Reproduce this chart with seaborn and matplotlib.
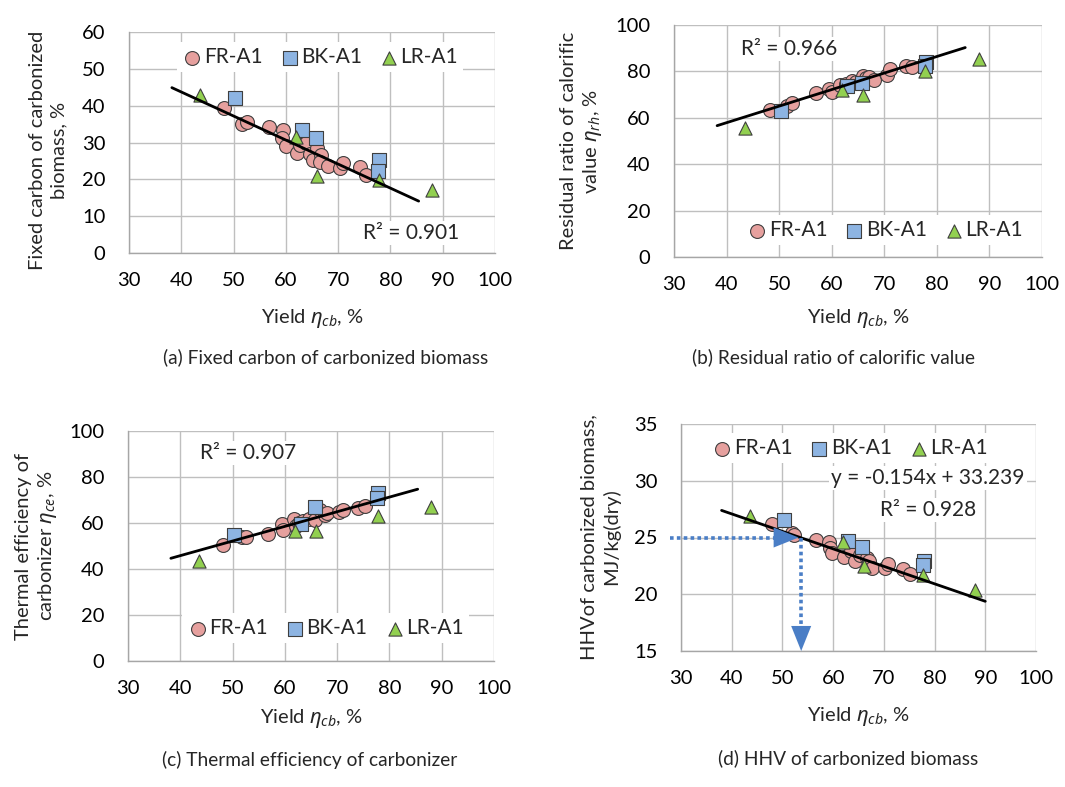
import numpy as np
import pandas as pd
import matplotlib
matplotlib.use("Agg")
import matplotlib.pyplot as plt
import seaborn as sns

# ---------------- data ----------------
# shared yields of BK-A1 and LR-A1 samples
BK_X = [50.3, 63.0, 65.7, 77.9, 77.7]
LR_X = [43.6, 62.0, 66.0, 77.8, 88.0]

# (a) fixed carbon of carbonized biomass, %
FR_A_X = [48.2, 51.6, 52.5, 56.8, 59.4, 59.2, 60.1, 62.1, 62.7, 63.8,
          64.6, 65.2, 65.9, 66.8, 66.5, 68.1, 70.3, 71.0, 74.1, 75.4]
FR_A_Y = [39.5, 35.0, 35.6, 34.1, 33.3, 31.1, 29.0, 27.2, 29.3, 29.9,
          27.0, 25.2, 28.4, 26.6, 24.7, 23.6, 23.0, 24.3, 23.4, 21.1]
BK_A_Y = [42.0, 33.3, 31.3, 25.3, 22.3]
LR_A_Y = [42.8, 31.5, 21.0, 19.8, 17.0]

# (b) residual ratio of calorific value, %
FR_B_X = [48.3, 51.5, 52.4, 57.0, 59.4, 60.0, 61.6, 62.7, 63.8, 64.6,
          65.9, 66.5, 67.0, 68.1, 70.5, 71.1, 74.2, 75.3]
FR_B_Y = [63.4, 65.1, 66.2, 70.8, 72.3, 71.3, 74.1, 74.5, 76.0, 75.5,
          78.0, 77.0, 77.7, 76.3, 78.4, 80.9, 82.3, 81.8]
BK_B_Y = [63.0, 73.5, 75.0, 84.2, 82.5]
LR_B_Y = [55.5, 72.0, 70.0, 80.0, 85.5]

# (c) thermal efficiency of carbonizer, %
FR_C_X = [48.1, 51.8, 52.6, 56.8, 59.4, 59.7, 61.7, 62.2, 62.8, 63.5,
          64.7, 65.8, 66.7, 67.7, 68.0, 70.4, 71.2, 74.0, 75.3]
FR_C_Y = [50.3, 53.7, 53.7, 55.1, 59.7, 57.1, 61.9, 58.6, 60.0, 61.0,
          61.9, 61.2, 65.5, 63.3, 64.3, 64.8, 65.8, 66.7, 67.2]
BK_C_Y = [55.0, 59.5, 67.0, 73.2, 71.0]
LR_C_Y = [43.5, 56.5, 56.5, 63.0, 67.0]

# (d) HHV of carbonized biomass, MJ/kg(dry)
FR_D_X = [48.0, 51.8, 52.3, 56.7, 59.2, 59.3, 59.8, 62.1, 63.5, 64.4,
          65.2, 66.7, 67.0, 67.7, 70.2, 70.9, 73.8, 75.1]
FR_D_Y = [26.2, 25.4, 25.2, 24.8, 24.6, 24.1, 23.6, 23.3, 23.8, 22.9,
          23.5, 23.2, 22.9, 22.3, 22.3, 22.7, 22.2, 21.8]
BK_D_Y = [26.5, 24.7, 24.2, 22.9, 22.6]
LR_D_Y = [26.9, 24.6, 22.5, 21.7, 20.4]
D_SLOPE, D_INTERCEPT = -0.154, 33.239
HHV_TARGET = 25.0

SERIES = ["FR-A1", "BK-A1", "LR-A1"]
R2_TEXT = ["R² = 0.901", "R² = 0.966", "R² = 0.907", "R² = 0.928"]
EQ_TEXT_D = "y = -0.154x + 33.239"
YLABELS = ["Fixed carbon of carbonized\nbiomass, %",
           "Residual ratio of calorific\nvalue $\\eta_{rh}$, %",
           "Thermal efficiency of\ncarbonizer $\\eta_{ce}$, %",
           "HHVof carbonized biomass,\nMJ/kg(dry)"]
XLABEL = "Yield $\\eta_{cb}$, %"
CAPTIONS = ["(a) Fixed carbon of carbonized biomass",
            "(b) Residual ratio of calorific value",
            "(c) Thermal efficiency of carbonizer",
            "(d) HHV of carbonized biomass"]
YLIMS = [(0, 60, 10), (0, 100, 20), (0, 100, 20), (15, 35, 5)]
TREND_X = [(38.2, 85.4), (38.2, 85.4), (38.2, 85.4), (38.0, 90.0)]

# ---------------- style ----------------
sns.set_theme(style="white")
plt.rcParams['font.family'] = ['Lato', 'DejaVu Sans']
plt.rcParams['mathtext.fontset'] = 'custom'
plt.rcParams['mathtext.rm'] = 'Lato'
plt.rcParams['mathtext.it'] = 'Noto Sans:italic'

FS_TICK = 14.5
FS_TXT = 15
FS_LAB = 14.5
FS_CAP = 13.8
GRID = '#BFBFBF'
COLORS = {"FR-A1": "#E6A09E", "BK-A1": "#8DB4E2", "LR-A1": "#92D050"}
MARKERS = {"FR-A1": "o", "BK-A1": "s", "LR-A1": "^"}
SIZES = {"FR-A1": 100, "BK-A1": 90, "LR-A1": 90}
ARROW_C = '#4A7EC6'

W, H = 1065, 787
fig = plt.figure(figsize=(W / 100, H / 100), dpi=100)


def px_axes(l, t, r, b):
    return fig.add_axes([l / W, 1 - b / H, (r - l) / W, (b - t) / H])


boxes = [(129, 32, 495, 253), (674, 25, 1042, 257),
         (128, 431, 494, 661), (681, 424, 1036, 651)]
leg_pos = [(0.522, 0.887), (0.573, 0.116), (0.54, 0.143), (0.476, 0.894)]
r2_pos = [(0.770, 0.090), (0.3125, 0.897), (0.328, 0.904), (0.696, 0.621)]
ylab_px = [(48, 150), (582, 141), (37, 546), (600, 537)]
xlab_y = [318, 318, 718, 716]
cap_px = [(326, 357), (833, 357), (310, 760), (848, 758)]

panel_data = [
    (FR_A_X, FR_A_Y, BK_A_Y, LR_A_Y),
    (FR_B_X, FR_B_Y, BK_B_Y, LR_B_Y),
    (FR_C_X, FR_C_Y, BK_C_Y, LR_C_Y),
    (FR_D_X, FR_D_Y, BK_D_Y, LR_D_Y),
]

for i, (box, (frx, fry, bky, lry)) in enumerate(zip(boxes, panel_data)):
    ax = px_axes(*box)
    df = pd.concat([
        pd.DataFrame({"x": frx, "y": fry, "s": "FR-A1"}),
        pd.DataFrame({"x": BK_X, "y": bky, "s": "BK-A1"}),
        pd.DataFrame({"x": LR_X, "y": lry, "s": "LR-A1"}),
    ], ignore_index=True)
    for name in SERIES:
        sub = df[df.s == name]
        sns.scatterplot(data=sub, x="x", y="y", ax=ax, marker=MARKERS[name],
                        s=SIZES[name], color=COLORS[name], edgecolor='#3F3F3F',
                        linewidth=0.8, label=name, zorder=3)

    # trend line (FR-A1 series)
    if i == 3:
        slope, icpt = D_SLOPE, D_INTERCEPT
    else:
        slope, icpt = np.polyfit(frx, fry, 1)
    tx = np.array(TREND_X[i])
    sns.lineplot(x=tx, y=slope * tx + icpt, ax=ax, color='black', lw=2.0,
                 zorder=4, legend=False)

    y0, y1, ys = YLIMS[i]
    ax.set_xlim(30, 100)
    ax.set_ylim(y0, y1)
    ax.set_xticks(range(30, 101, 10))
    ax.set_yticks(np.arange(y0, y1 + 0.1, ys))
    ax.grid(True, color=GRID, lw=1.0)
    ax.set_axisbelow(True)
    for s in ['top', 'right']:
        ax.spines[s].set_visible(False)
    for s in ['left', 'bottom']:
        ax.spines[s].set_color('#A6A6A6')
        ax.spines[s].set_linewidth(1.0)
    ax.tick_params(axis='both', direction='out', length=5, width=1,
                   color='#A6A6A6', labelsize=FS_TICK, labelcolor='black')
    ax.tick_params(axis='x', pad=9)
    ax.tick_params(axis='y', pad=12)
    ax.set_xlabel("")
    ax.set_ylabel("")

    ax.legend(loc='center', bbox_to_anchor=leg_pos[i], ncol=3, frameon=True,
              framealpha=1, edgecolor='none', facecolor='white', fancybox=False,
              fontsize=FS_TXT, handletextpad=0.05, columnspacing=0.8,
              handlelength=1.0, borderpad=0.25, borderaxespad=0)

    ax.text(*r2_pos[i], R2_TEXT[i], transform=ax.transAxes, ha='center',
            va='center', fontsize=FS_TXT, zorder=5,
            bbox=dict(fc='white', ec='none', pad=1.5))
    if i == 3:
        ax.text(0.696, 0.762, EQ_TEXT_D, transform=ax.transAxes, ha='center',
                va='center', fontsize=FS_TXT, zorder=5,
                bbox=dict(fc='white', ec='none', pad=1.5))
        xc = (D_INTERCEPT - HHV_TARGET) / (-D_SLOPE)
        ax.plot([27.8, xc - 3.6], [HHV_TARGET, HHV_TARGET], ls=(0, (1, 0.9)),
                lw=2.6, color=ARROW_C, clip_on=False, zorder=5)
        ax.annotate('', xy=(xc - 0.3, HHV_TARGET), xytext=(xc - 4.2, HHV_TARGET),
                    arrowprops=dict(arrowstyle='-|>,head_length=0.75,head_width=0.3',
                                    color=ARROW_C, lw=0.01,
                                    mutation_scale=24, shrinkA=0, shrinkB=0),
                    zorder=5)
        ax.plot([xc + 0.2, xc + 0.2], [HHV_TARGET, 17.0], ls=(0, (1, 0.9)),
                lw=2.6, color=ARROW_C, zorder=5)
        ax.annotate('', xy=(xc + 0.2, 15.0), xytext=(xc + 0.2, 17.6),
                    arrowprops=dict(arrowstyle='-|>,head_length=0.75,head_width=0.3',
                                    color=ARROW_C, lw=0.01,
                                    mutation_scale=24, shrinkA=0, shrinkB=0),
                    zorder=5)

    cx = (box[0] + box[2]) / 2
    fig.text(ylab_px[i][0] / W, 1 - ylab_px[i][1] / H, YLABELS[i], rotation=90,
             ha='center', va='center', fontsize=FS_LAB, multialignment='center',
             linespacing=1.3)
    fig.text(cx / W, 1 - xlab_y[i] / H, XLABEL, ha='center', va='center',
             fontsize=FS_LAB)
    fig.text(cap_px[i][0] / W, 1 - cap_px[i][1] / H, CAPTIONS[i], ha='center',
             va='center', fontsize=FS_CAP)

fig.savefig("out.png", dpi=100, facecolor='white')
